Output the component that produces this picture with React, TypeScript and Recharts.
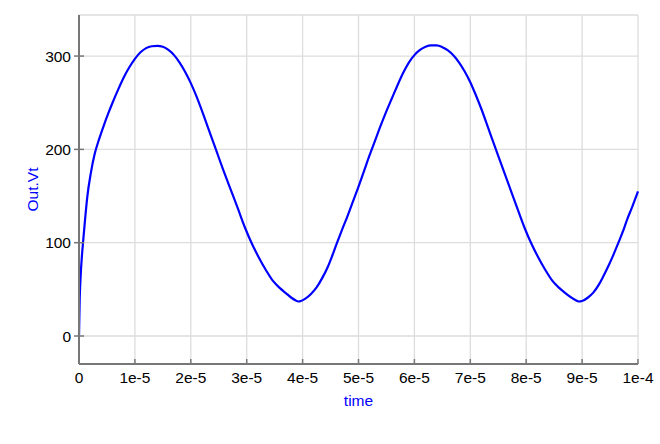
import React from 'react';
import { LineChart, Line, XAxis, YAxis, CartesianGrid } from 'recharts';

// simulated output voltage, time in seconds
const timeValues = [
  0, 0.012e-5, 0.03e-5, 0.05e-5, 0.072e-5, 0.107e-5, 0.15e-5, 0.21e-5, 0.28e-5, 0.36e-5,
  0.44e-5, 0.52e-5, 0.6e-5, 0.7e-5, 0.8e-5, 0.9e-5, 1.0e-5, 1.1e-5, 1.2e-5, 1.3e-5,
  1.4e-5, 1.5e-5, 1.6e-5, 1.7e-5, 1.8e-5, 1.9e-5, 2.0e-5, 2.1e-5, 2.22e-5, 2.34e-5,
  2.46e-5, 2.58e-5, 2.7e-5, 2.84e-5, 2.97e-5, 3.1e-5, 3.2e-5, 3.34e-5, 3.47e-5, 3.6e-5,
  3.7e-5, 3.8e-5, 3.88e-5, 3.92e-5, 3.97e-5, 4.05e-5, 4.15e-5, 4.25e-5, 4.35e-5, 4.45e-5,
  4.53e-5, 4.61e-5, 4.7e-5, 4.8e-5, 4.9e-5, 5.0e-5, 5.1e-5, 5.2e-5, 5.3e-5, 5.4e-5,
  5.5e-5, 5.6e-5, 5.7e-5, 5.8e-5, 5.9e-5, 6.0e-5, 6.1e-5, 6.2e-5, 6.3e-5, 6.4e-5,
  6.5e-5, 6.6e-5, 6.7e-5, 6.8e-5, 6.9e-5, 7.0e-5, 7.1e-5, 7.2e-5, 7.32e-5, 7.44e-5,
  7.56e-5, 7.7e-5, 7.84e-5, 7.97e-5, 8.1e-5, 8.2e-5, 8.34e-5, 8.47e-5, 8.6e-5, 8.7e-5,
  8.8e-5, 8.88e-5, 8.94e-5, 9.0e-5, 9.1e-5, 9.2e-5, 9.3e-5, 9.38e-5, 9.47e-5, 9.56e-5,
  9.65e-5, 9.73e-5, 9.8e-5, 9.9e-5, 10e-5,
];
const vtValues = [
  0, 38, 65, 84, 100, 124, 150, 174, 195, 211,
  225, 238, 250, 264, 277, 288, 297, 304, 308.5, 310.5,
  311, 310, 306.5, 301, 293, 283, 271, 257, 238, 218,
  198, 178, 159, 137, 116, 98, 86, 71, 59, 51,
  46, 41, 38, 37, 37.5, 40, 45, 52, 62, 74,
  86, 99, 113, 128, 144, 160, 177, 194, 210, 226,
  241, 255, 269, 282, 293, 301, 306.5, 310, 311.5, 311.5,
  309.5, 306, 300.5, 293, 283.5, 272, 258, 243, 223, 203,
  183, 160, 137, 116, 98, 86, 71, 59, 51, 46,
  41.5, 38.5, 37, 37.5, 41, 46.5, 55, 64, 75, 87,
  100, 112, 124, 139, 155,
];

const xTicks = [0, 1e-5, 2e-5, 3e-5, 4e-5, 5e-5, 6e-5, 7e-5, 8e-5, 9e-5, 1e-4];
const xTickLabels = ['0', '1e-5', '2e-5', '3e-5', '4e-5', '5e-5', '6e-5', '7e-5', '8e-5', '9e-5', '1e-4'];
const yTicks = [0, 100, 200, 300];

const data = timeValues.map((t, i) => ({ time: t, vt: vtValues[i] }));

const FONT = '"Liberation Sans", Arial, sans-serif';
const AXIS = '#777777';

const YTick = (props: any) => {
  const { x, y, payload } = props;
  return (
    <g>
      <line x1={x + 3} x2={x + 13} y1={y} y2={y} stroke={AXIS} strokeWidth={1.5} />
      <text x={x} y={y} dy="0.36em" textAnchor="end" fontSize={15.5} fontFamily={FONT} fill="#000">
        {payload.value}
      </text>
    </g>
  );
};

const XTick = (props: any) => {
  const { x, y, index } = props;
  return (
    <g>
      <line x1={x} x2={x} y1={y - 8} y2={y - 13} stroke={AXIS} strokeWidth={1.5} />
      <text x={x} y={y} dy="0.71em" textAnchor="middle" fontSize={15.5} fontFamily={FONT} fill="#000">
        {xTickLabels[index]}
      </text>
    </g>
  );
};

export default function App() {
  return (
    <div style={{ position: 'absolute', left: 0, top: 0, background: '#fff' }}>
      <LineChart
        width={660}
        height={444}
        data={data}
        margin={{ top: 15, right: 22, bottom: 38, left: 0 }}
      >
        <CartesianGrid stroke="#dddddd" strokeWidth={1.3} />
        <XAxis
          dataKey="time"
          type="number"
          domain={[0, 1e-4]}
          ticks={xTicks}
          interval={0}
          height={42}
          tickSize={0}
          tickMargin={8}
          tickLine={false}
          tick={<XTick />}
          axisLine={{ stroke: AXIS, strokeWidth: 2 }}
          label={{
            value: 'time',
            position: 'insideBottom',
            offset: 0,
            fill: '#0000ff',
            fontSize: 15.5,
            fontFamily: FONT,
          }}
        />
        <XAxis
          xAxisId="top"
          orientation="top"
          type="number"
          domain={[0, 1e-4]}
          height={0}
          tick={false}
          tickLine={false}
          axisLine={{ stroke: AXIS, strokeWidth: 2 }}
        />
        <YAxis
          type="number"
          domain={[-30, 344]}
          ticks={yTicks}
          interval={0}
          width={79}
          tickSize={5}
          tickMargin={3}
          tickLine={false}
          tick={<YTick />}
          axisLine={{ stroke: AXIS, strokeWidth: 2 }}
          label={{
            value: 'Out.Vt',
            angle: -90,
            position: 'insideLeft',
            offset: 32,
            fill: '#0000ff',
            fontSize: 15.5,
            fontFamily: FONT,
            style: { textAnchor: 'middle' },
          }}
        />
        <YAxis
          yAxisId="right"
          orientation="right"
          type="number"
          domain={[-30, 344]}
          width={0}
          tick={false}
          tickLine={false}
          axisLine={{ stroke: AXIS, strokeWidth: 2 }}
        />
        <Line
          type="monotone"
          dataKey="vt"
          stroke="#0000ff"
          strokeWidth={2.2}
          dot={false}
          isAnimationActive={false}
        />
      </LineChart>
    </div>
  );
}
